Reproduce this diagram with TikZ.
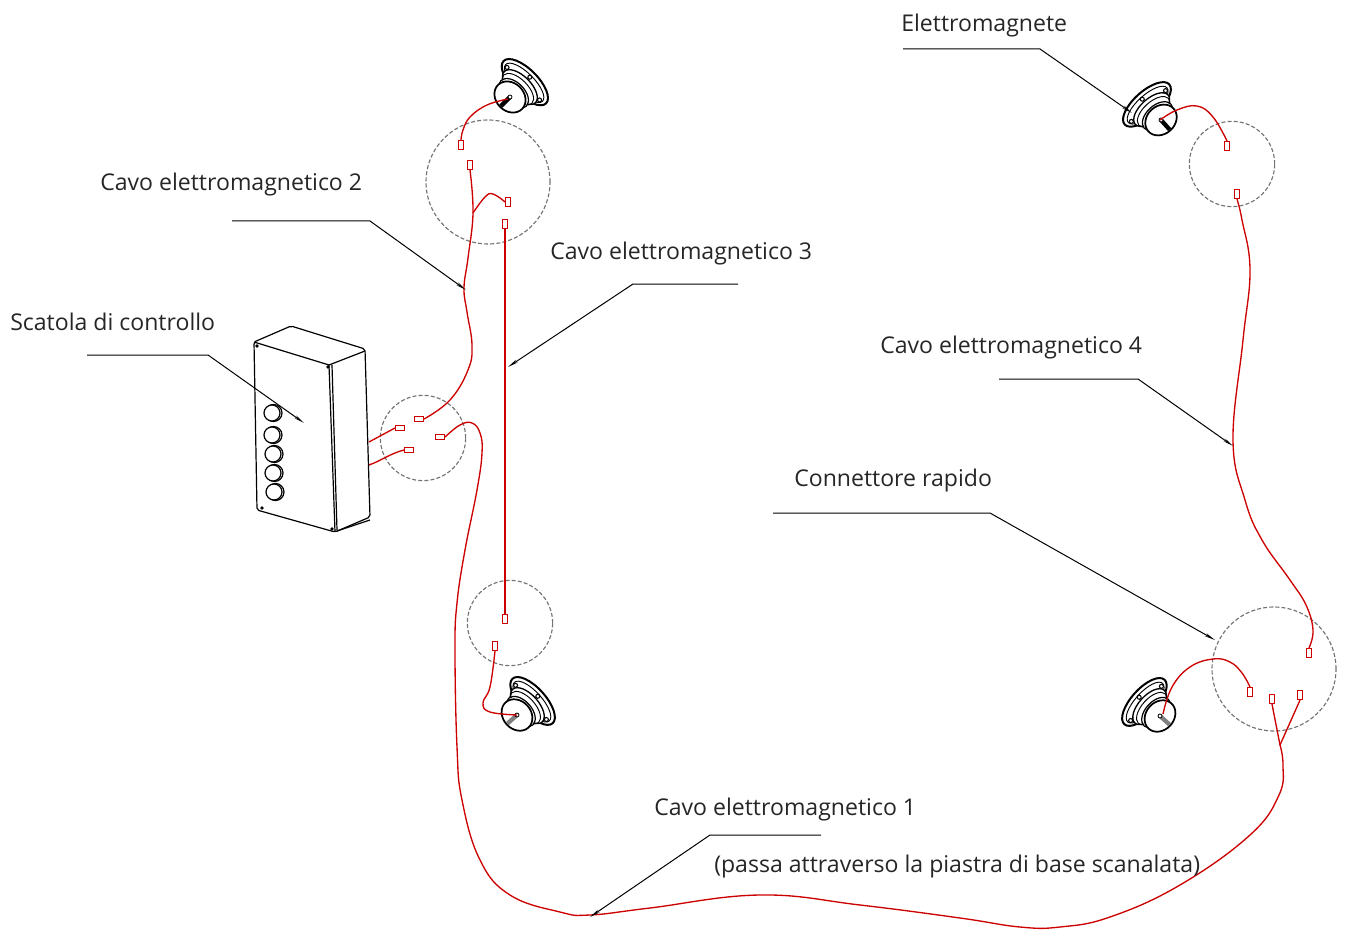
\documentclass[tikz,border=0pt]{standalone}
\usepackage{fontspec}
\setmainfont{Open Sans}
\usetikzlibrary{arrows.meta, positioning}

\begin{document}
\begin{tikzpicture}[
	x=0.75pt, y=-0.75pt,
	label/.style={anchor=west, inner sep=0pt, font=\fontsize{17.3}{20}\selectfont, text=black!85},
	leader/.style={-{Stealth[length=8pt, width=2.4pt]}, line width=0.75pt},
	cable/.style={line width=1pt, draw=red!80!black, line join=round},
	plug/.style={rectangle, draw=red!80!black, fill=white, line width=0.8pt, inner sep=0pt, minimum width=3.6pt, minimum height=6.8pt},
	plugflat/.style={plug, minimum width=6.8pt, minimum height=3.6pt},
	zone/.style={circle, draw=black!55, dashed, dash pattern=on 3pt off 1.6pt, line width=0.85pt, inner sep=0pt},
	boxline/.style={line width=0.9pt, line join=round},
	magnet/.pic={
		\draw[line width=1.5pt, fill=white] (21,0) ellipse [x radius=13, y radius=30];
		\draw[line width=0.7pt] (20,0) ellipse [x radius=10, y radius=26];
		\draw[line width=1pt, fill=white] (14,0) ellipse [x radius=11, y radius=22];
		\draw[line width=0.7pt] (11,0) ellipse [x radius=10, y radius=20];
		\draw[line width=0.9pt, fill=white] (5,0) ellipse [x radius=11, y radius=18];
		\draw[line width=1.3pt, fill=white] (0,0) ellipse [x radius=14, y radius=17];
		\foreach \b in {-23,0,23}
			\draw[line width=0.8pt, fill=white] ({28-abs(\b)*0.4},\b) circle (2);
		\draw[line width=3.2pt, draw=#1] (-1,0) -- (-13,0);
		\draw[line width=0.6pt, fill=white] (0,0) circle (2);
	},
	magnet/.default=black
	]
	
	% Magnets
	\pic (magnetA) at (510,97) [rotate=45] {magnet};
	\pic (magnetB) at (1161,120) [rotate=132] {magnet};
	\pic (magnetC) at (517,715) [rotate=42] {magnet=black!50};
	\pic (magnetD) at (1160,716) [rotate=138] {magnet=black!50};
	\coordinate (tipA) at (508,99);
	\coordinate (tipB) at (1160,120);
	\coordinate (tipC) at (517,715);
	\coordinate (tipD) at (1163,714);
	
	% Control box
	\draw[boxline, fill=white, rounded corners=1.5pt] (254,342) -- (291,326) -- (365,349) -- (370,517) -- (335,532) -- (257,510) -- cycle;
	\draw[boxline] (254,342) -- (329,365) -- (335,532);
	\draw[boxline] (329,365) -- (365,351);
	\draw[boxline] (332,365) -- (337,530);
	\draw[boxline] (337,531) -- (370,520);
	\foreach \sx/\sy in {257/346, 328/367, 262/508, 332/529}
		\fill (\sx,\sy) circle (1.8);
	\foreach \bx/\by in {272/413, 272/435, 273/454, 273/473, 274/492} {
		\draw[boxline, fill=white] (\bx+1.5,\by) circle (8.5);
		\draw[boxline, fill=white] (\bx,\by) circle (8);
	}
	\coordinate (boxA) at (369,442);
	\coordinate (boxB) at (369,465);
	
	% Dashed zones
	\node (zoneA) [zone, minimum size=93pt] at (488,182) {};
	\node (zoneB) [zone, minimum size=64pt] at (423,438) {};
	\node (zoneC) [zone, minimum size=64pt] at (510,623) {};
	\node (zoneD) [zone, minimum size=64pt] at (1232,164) {};
	\node (zoneE) [zone, minimum size=93pt] at (1274,669) {};
	
	% Plugs
	\node (plugA) [plug] at (461,145) {};
	\node (plugB) [plug] at (470,165) {};
	\node (plugC) [plug] at (508,202) {};
	\node (plugD) [plug] at (505,224) {};
	\node (plugE) [plugflat] at (419,419) {};
	\node (plugF) [plugflat] at (400,428) {};
	\node (plugG) [plugflat] at (409,450) {};
	\node (plugH) [plugflat] at (440,437) {};
	\node (plugI) [plug] at (505,619) {};
	\node (plugJ) [plug] at (495,646) {};
	\node (plugK) [plug] at (1227,146) {};
	\node (plugL) [plug] at (1237,194) {};
	\node (plugM) [plug] at (1309,653) {};
	\node (plugN) [plug] at (1250,692) {};
	\node (plugO) [plug] at (1272,699) {};
	\node (plugP) [plug] at (1300,695) {};
	
	% Cables
	\coordinate (forkA) at (473,213);
	\coordinate (forkB) at (1280,745);
	\draw[cable] plot[smooth, tension=0.7] coordinates {(tipA) (487,105) (470,117) (463,130) (plugA.north)};
	\draw[cable] plot[smooth, tension=0.7] coordinates {(plugE.east) (450,400) (468,370) (472,345) (467,312) (464,288) (468,258) (forkA) (plugB.south)};
	\draw[cable] plot[smooth, tension=0.7] coordinates {(forkA) (485,197) (493,194) (plugC.west)};
	\draw[cable] (plugD) -- (plugI);
	\draw[cable] (boxA) -- (plugF.west);
	\draw[cable] (boxB) to[out=20, in=195] (plugG.west);
	\draw[cable] plot[smooth, tension=0.7] coordinates {(plugH.east) (460,425) (472,423) (480,433) (482,453) (477,490) (465,550) (457,603) (455,650) (457,747) (462,800) (480,860) (510,895) (560,912) (590,915) (650,908) (760,895) (860,905) (960,918) (1020,927) (1060,927) (1110,917) (1180,885) (1250,835) (1279,795) (1283,765) (forkB)};
	\draw[cable] (forkB) -- (plugO.south);
	\draw[cable] (forkB) -- (plugP.south);
	\draw[cable] plot[smooth, tension=0.7] coordinates {(plugJ.south) (490,687) (483,703) (490,712) (tipC)};
	\draw[cable] plot[smooth, tension=0.7] coordinates {(tipB) (1177,110) (1197,106) (1213,117) (plugK.north)};
	\draw[cable] plot[smooth, tension=0.7] coordinates {(plugL.south) (1242,220) (1250,270) (1243,340) (1233,440) (1245,500) (1262,540) (1290,580) (1306,605) (1313,630) (plugM.north)};
	\draw[cable] plot[smooth, tension=0.7] coordinates {(tipD) (1172,687) (1190,667) (1213,659) (1230,662) (1242,673) (plugN.north)};
	
	% Labels
	\node (labelMagnet) [label] at (901,26) {Elettromagnete};
	\node (labelCableB) [label] at (100,185) {Cavo elettromagnetico 2};
	\node (labelCableC) [label] at (550,254) {Cavo elettromagnetico 3};
	\node (labelBox) [label] at (10,322) {Scatola di controllo};
	\node (labelCableD) [label] at (880,348) {Cavo elettromagnetico 4};
	\node (labelPlug) [label] at (794,481) {Connettore rapido};
	\node (labelCableA) [label] at (654,810) {Cavo elettromagnetico 1};
	\node (labelPass) [label] at (714,867) {(passa attraverso la piastra di base scanalata)};
	
	% Leaders
	\coordinate (startMagnet) at (903,49);
	\coordinate (startCableB) at (232,221);
	\coordinate (startCableC) at (738,284);
	\coordinate (startBox) at (87,355);
	\coordinate (startCableD) at (999,379);
	\coordinate (startPlug) at (773,513);
	\coordinate (startCableA) at (821,835);
	\draw[leader] (startMagnet) -- (1040,49) -- (1132,113);
	\draw[leader] (startCableB) -- (370,221) -- (466,290);
	\draw[leader] (startCableC) -- (633,284) -- (508,367);
	\draw[leader] (startBox) -- (208,355) -- (304,423);
	\draw[leader] (startCableD) -- (1138,379) -- (1233,446);
	\draw[leader] (startPlug) -- (990,513) -- (1215,640);
	\draw[leader] (startCableA) -- (710,835) -- (590,917);
	
	\useasboundingbox (0,0) rectangle (1346,928);
\end{tikzpicture}
\end{document}
